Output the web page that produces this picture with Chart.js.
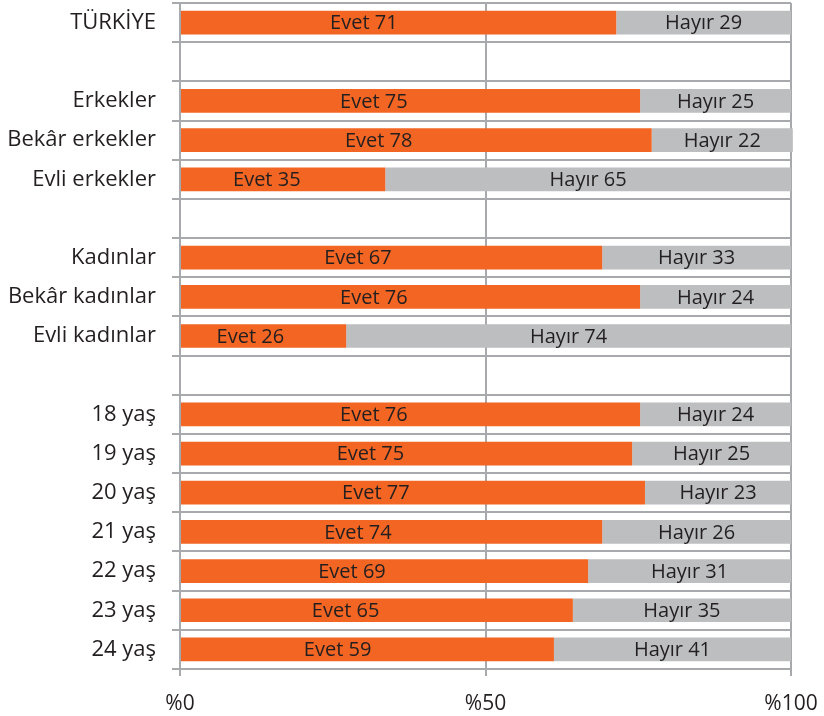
<!DOCTYPE html>
<html>
<head>
<meta charset="utf-8">
<script src="https://cdn.jsdelivr.net/npm/chart.js@4/dist/chart.umd.min.js"></script>
<style>
    html, body { margin: 0; padding: 0; background: #fff; }
    #wrap { width: 824px; height: 716px; }
</style>
</head>
<body>
<div id="wrap"><canvas id="chart" width="824" height="716"></canvas></div>
<script>
// Rows (empty strings are the spacer rows between groups)
const categories = [
    "TÜRKİYE", "",
    "Erkekler", "Bekâr erkekler", "Evli erkekler", "",
    "Kadınlar", "Bekâr kadınlar", "Evli kadınlar", "",
    "18 yaş", "19 yaş", "20 yaş", "21 yaş", "22 yaş", "23 yaş", "24 yaş"
];

// Bar lengths as drawn in the picture (%)
const evetValues = [71.4, null, 75.3, 77.2, 33.6, null, 69.1, 75.3, 27.2, null, 75.3, 74.0, 76.1, 69.1, 66.8, 64.3, 61.2];
const hayirValues = [28.6, null, 24.7, 23.1, 66.4, null, 30.9, 24.7, 72.8, null, 24.7, 26.0, 23.9, 30.9, 33.2, 35.7, 38.8];

// Numbers printed inside the bars
const evetLabels = [71, null, 75, 78, 35, null, 67, 76, 26, null, 76, 75, 77, 74, 69, 65, 59];
const hayirLabels = [29, null, 25, 22, 65, null, 33, 24, 74, null, 24, 25, 23, 26, 31, 35, 41];

const xTicks = [0, 50, 100];

const FONT = "'Open Sans', 'DejaVu Sans', sans-serif";
const TEXT = "#231f20";
const GRID = "#a7a9ac";

// Draws "Evet nn" / "Hayır nn" inside the segments
const barText = {
    id: "barText",
    afterDatasetsDraw(chart) {
        const ctx = chart.ctx;
        ctx.save();
        ctx.font = "20px " + FONT;
        ctx.fillStyle = TEXT;
        ctx.textAlign = "center";
        ctx.textBaseline = "middle";
        chart.data.datasets.forEach((ds, di) => {
            const meta = chart.getDatasetMeta(di);
            meta.data.forEach((bar, i) => {
                const n = ds.printed[i];
                if (n === null || n === undefined) return;
                const p = bar.getProps(["x", "y", "base"], true);
                const cx = p.base + (p.x - p.base) * ds.textAt;
                ctx.fillText(ds.label + " " + n, cx, p.y + 1);
            });
        });
        ctx.restore();
    }
};

new Chart(document.getElementById("chart"), {
    type: "bar",
    data: {
        labels: categories,
        datasets: [
            {
                label: "Evet",
                data: evetValues,
                printed: evetLabels,
                textAt: 0.42,
                backgroundColor: "#f26522",
                barPercentage: 0.605,
                categoryPercentage: 1,
            },
            {
                label: "Hayır",
                data: hayirValues,
                printed: hayirLabels,
                textAt: 0.5,
                backgroundColor: "#bcbec0",
                barPercentage: 0.605,
                categoryPercentage: 1,
                clip: false,
            },
        ],
    },
    plugins: [barText],
    options: {
        indexAxis: "y",
        responsive: false,
        animation: false,
        layout: { padding: { top: 3, right: 33, left: 0, bottom: 0 } },
        plugins: {
            legend: { display: false },
            tooltip: { enabled: false },
        },
        scales: {
            x: {
                stacked: true,
                min: 0,
                max: 100,
                afterBuildTicks: (s) => { s.ticks = xTicks.map((v) => ({ value: v })); },
                afterFit: (s) => { s.height = 47; s.paddingLeft = 0; s.paddingRight = 0; },
                grid: { color: GRID, lineWidth: 2, tickLength: 7 },
                border: { display: false },
                ticks: {
                    color: TEXT,
                    font: { family: FONT, size: 21 },
                    padding: 15,
                    maxRotation: 0,
                    callback: (v) => "%" + v,
                },
            },
            y: {
                stacked: true,
                afterFit: (s) => { s.width = 180; s.paddingTop = 0; s.paddingBottom = 0; },
                grid: { offset: true, color: GRID, lineWidth: 2, tickLength: 8 },
                border: { display: false },
                ticks: {
                    color: TEXT,
                    font: { family: FONT, size: 22 },
                    padding: 16,
                    autoSkip: false,
                },
            },
        },
    },
});
</script>
</body>
</html>
